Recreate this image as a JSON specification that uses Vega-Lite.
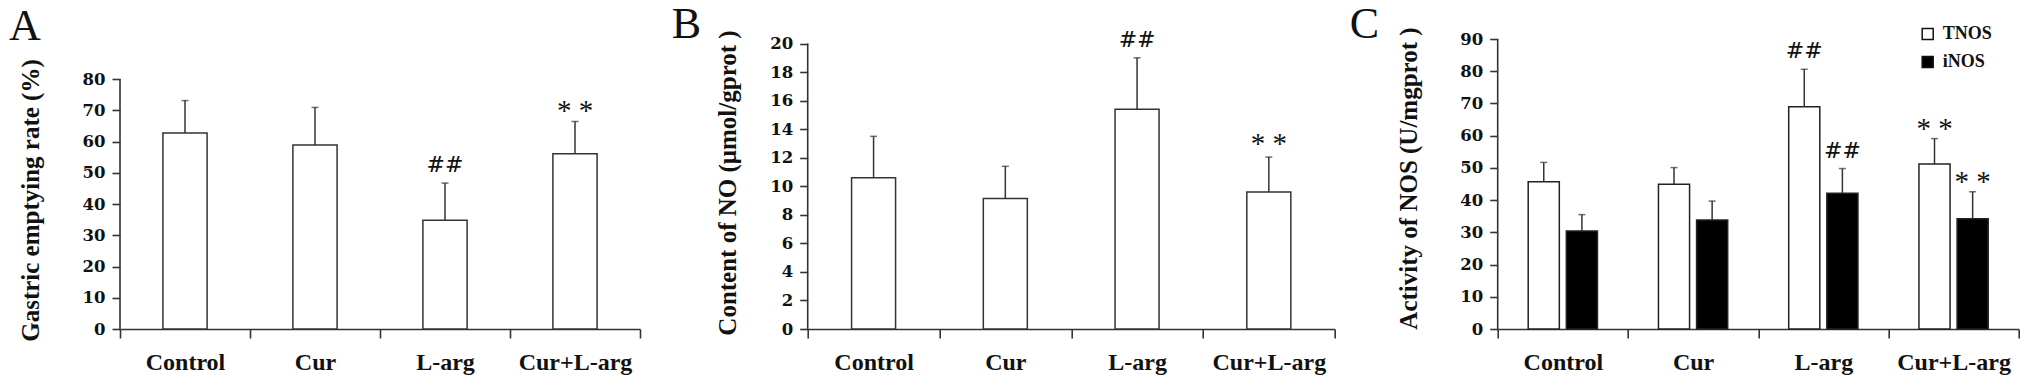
{
  "$schema": "https://vega.github.io/schema/vega-lite/v6.json",
  "autosize": {"type": "none"},
  "padding": {"left": 120, "top": 39, "right": 1911, "bottom": 348},
  "background": "white",
  "config": {
    "font": "Liberation Serif",
    "view": {"stroke": null},
    "axis": {
      "grid": false,
      "labelFlush": false,
      "labelOverlap": false,
      "domainColor": "#333",
      "tickColor": "#333",
      "domainWidth": 1.6,
      "tickWidth": 1.6,
      "labelColor": "#111",
      "titleColor": "#111"
    },
    "axisX": {
      "title": null,
      "labelAngle": 0,
      "tickBand": "extent",
      "tickSize": 9,
      "labelPadding": 12,
      "labelFont": "Liberation Serif",
      "labelFontWeight": "bold",
      "labelFontSize": 24
    },
    "axisY": {
      "domain": false,
      "tickSize": 8,
      "labelPadding": 7,
      "labelFont": "DejaVu Serif",
      "labelFontWeight": "bold",
      "labelFontSize": 16.5,
      "titleFont": "Liberation Serif",
      "titleFontWeight": "bold",
      "titleFontSize": 25,
      "titleBaseline": "alphabetic"
    },
    "title": {"font": "Liberation Serif", "fontSize": 44, "fontWeight": "normal", "color": "#111", "anchor": "start", "frame": "group", "offset": 0, "baseline": "alphabetic"}
  },
  "datasets": {
    "gastric": [
      {"group": "Control", "mean": 62.7, "upper": 73.1, "sig": ""},
      {"group": "Cur", "mean": 58.9, "upper": 70.9, "sig": ""},
      {"group": "L-arg", "mean": 34.8, "upper": 46.7, "sig": "##"},
      {"group": "Cur+L-arg", "mean": 56.1, "upper": 66.4, "sig": "* *"}
    ],
    "no": [
      {"group": "Control", "mean": 10.6, "upper": 13.5, "sig": ""},
      {"group": "Cur", "mean": 9.15, "upper": 11.4, "sig": ""},
      {"group": "L-arg", "mean": 15.4, "upper": 19.0, "sig": "##"},
      {"group": "Cur+L-arg", "mean": 9.6, "upper": 12.05, "sig": "* *"}
    ],
    "nos": [
      {"group": "Control", "series": "TNOS", "mean": 45.7, "upper": 51.7, "sig": ""},
      {"group": "Control", "series": "iNOS", "mean": 30.4, "upper": 35.5, "sig": ""},
      {"group": "Cur", "series": "TNOS", "mean": 44.9, "upper": 50.1, "sig": ""},
      {"group": "Cur", "series": "iNOS", "mean": 33.8, "upper": 39.7, "sig": ""},
      {"group": "L-arg", "series": "TNOS", "mean": 69.0, "upper": 80.6, "sig": "##"},
      {"group": "L-arg", "series": "iNOS", "mean": 42.1, "upper": 49.8, "sig": "##"},
      {"group": "Cur+L-arg", "series": "TNOS", "mean": 51.2, "upper": 59.1, "sig": "* *"},
      {"group": "Cur+L-arg", "series": "iNOS", "mean": 34.2, "upper": 42.6, "sig": "* *"}
    ]
  },
  "bounds": "flush",
  "spacing": 167.7,
  "resolve": {"scale": {"fill": "independent"}, "legend": {"fill": "independent"}},
  "hconcat": [
    {
      "width": 520,
      "height": 290,
      "title": {"text": "A", "dx": -111, "dy": 14},
      "data": {"name": "gastric"},
      "encoding": {
        "x": {"field": "group", "type": "nominal", "scale": {"domain": ["Control", "Cur", "L-arg", "Cur+L-arg"], "paddingInner": 0, "paddingOuter": 0}}
      },
      "layer": [
        {
          "mark": {"type": "bar", "width": {"band": 0.34}, "fill": "white", "stroke": "#333", "strokeWidth": 1.5},
          "encoding": {
            "y": {"field": "mean", "type": "quantitative", "scale": {"domain": [0, 92.8], "nice": false},
              "axis": {"values": [0, 10, 20, 30, 40, 50, 60, 70, 80], "title": "Gastric emptying rate (%)", "titleX": -81.5, "titleY": 161}}
          }
        },
        {
          "mark": {"type": "rule", "stroke": "#333", "strokeWidth": 1.5},
          "encoding": {"y": {"field": "mean", "type": "quantitative", "scale": {"domain": [0, 92.8], "nice": false},
              "axis": {"values": [0, 10, 20, 30, 40, 50, 60, 70, 80], "title": "Gastric emptying rate (%)", "titleX": -81.5, "titleY": 161}}, "y2": {"field": "upper"}}
        },
        {
          "mark": {"type": "tick", "orient": "horizontal", "size": 7, "thickness": 1.5, "color": "#333"},
          "encoding": {"y": {"field": "upper", "type": "quantitative", "scale": {"domain": [0, 92.8], "nice": false},
              "axis": {"values": [0, 10, 20, 30, 40, 50, 60, 70, 80], "title": "Gastric emptying rate (%)", "titleX": -81.5, "titleY": 161}}}
        },
        {
          "transform": [{"filter": "datum.sig == '##'"}],
          "mark": {"type": "text", "font": "DejaVu Serif", "fontSize": 22, "baseline": "alphabetic", "dy": -11, "color": "#111"},
          "encoding": {"y": {"field": "upper", "type": "quantitative", "scale": {"domain": [0, 92.8], "nice": false},
              "axis": {"values": [0, 10, 20, 30, 40, 50, 60, 70, 80], "title": "Gastric emptying rate (%)", "titleX": -81.5, "titleY": 161}}, "text": {"field": "sig"}}
        },
        {
          "transform": [{"filter": "datum.sig == '* *'"}],
          "mark": {"type": "text", "font": "Liberation Serif", "fontSize": 29, "baseline": "alphabetic", "dy": -1.5, "color": "#111"},
          "encoding": {"y": {"field": "upper", "type": "quantitative", "scale": {"domain": [0, 92.8], "nice": false},
              "axis": {"values": [0, 10, 20, 30, 40, 50, 60, 70, 80], "title": "Gastric emptying rate (%)", "titleX": -81.5, "titleY": 161}}, "text": {"field": "sig"}}
        },
        {
          "data": {"values": [{}]},
          "mark": {"type": "rule", "stroke": "#333", "strokeWidth": 1.6},
          "encoding": {"x": {"datum": "Control", "bandPosition": 0}, "y": {"datum": 0, "type": "quantitative", "scale": {"domain": [0, 92.8], "nice": false},
              "axis": {"values": [0, 10, 20, 30, 40, 50, 60, 70, 80], "title": "Gastric emptying rate (%)", "titleX": -81.5, "titleY": 161}}, "y2": {"datum": 80}}
        }
      ]
    },
    {
      "bounds": "flush",
      "spacing": 163,
      "resolve": {"scale": {"fill": "independent"}, "legend": {"fill": "independent"}},
      "hconcat": [
        {
          "width": 527,
          "height": 290,
          "title": {"text": "B", "dx": -136, "dy": 22},
          "data": {"name": "no"},
          "encoding": {
            "x": {"field": "group", "type": "nominal", "scale": {"domain": ["Control", "Cur", "L-arg", "Cur+L-arg"], "paddingInner": 0, "paddingOuter": 0}}
          },
          "layer": [
            {
              "mark": {"type": "bar", "width": {"band": 0.334}, "fill": "white", "stroke": "#333", "strokeWidth": 1.5},
              "encoding": {
                "y": {"field": "mean", "type": "quantitative", "scale": {"domain": [0, 20.32], "nice": false},
                  "axis": {"values": [0, 2, 4, 6, 8, 10, 12, 14, 16, 18, 20], "title": "Content of NO (μmol/gprot )", "titleX": -72, "titleY": 143.5}}
              }
            },
            {
              "mark": {"type": "rule", "stroke": "#333", "strokeWidth": 1.5},
              "encoding": {"y": {"field": "mean", "type": "quantitative", "scale": {"domain": [0, 20.32], "nice": false},
                  "axis": {"values": [0, 2, 4, 6, 8, 10, 12, 14, 16, 18, 20], "title": "Content of NO (μmol/gprot )", "titleX": -72, "titleY": 143.5}}, "y2": {"field": "upper"}}
            },
            {
              "mark": {"type": "tick", "orient": "horizontal", "size": 7, "thickness": 1.5, "color": "#333"},
              "encoding": {"y": {"field": "upper", "type": "quantitative", "scale": {"domain": [0, 20.32], "nice": false},
                  "axis": {"values": [0, 2, 4, 6, 8, 10, 12, 14, 16, 18, 20], "title": "Content of NO (μmol/gprot )", "titleX": -72, "titleY": 143.5}}}
            },
            {
              "transform": [{"filter": "datum.sig == '##'"}],
              "mark": {"type": "text", "font": "DejaVu Serif", "fontSize": 22, "baseline": "alphabetic", "dy": -11, "color": "#111"},
              "encoding": {"y": {"field": "upper", "type": "quantitative", "scale": {"domain": [0, 20.32], "nice": false},
                  "axis": {"values": [0, 2, 4, 6, 8, 10, 12, 14, 16, 18, 20], "title": "Content of NO (μmol/gprot )", "titleX": -72, "titleY": 143.5}}, "text": {"field": "sig"}}
            },
            {
              "transform": [{"filter": "datum.sig == '* *'"}],
              "mark": {"type": "text", "font": "Liberation Serif", "fontSize": 29, "baseline": "alphabetic", "dy": -4.5, "color": "#111"},
              "encoding": {"y": {"field": "upper", "type": "quantitative", "scale": {"domain": [0, 20.32], "nice": false},
                  "axis": {"values": [0, 2, 4, 6, 8, 10, 12, 14, 16, 18, 20], "title": "Content of NO (μmol/gprot )", "titleX": -72, "titleY": 143.5}}, "text": {"field": "sig"}}
            },
            {
              "data": {"values": [{}]},
              "mark": {"type": "rule", "stroke": "#333", "strokeWidth": 1.6},
              "encoding": {"x": {"datum": "Control", "bandPosition": 0}, "y": {"datum": 0, "type": "quantitative", "scale": {"domain": [0, 20.32], "nice": false},
                  "axis": {"values": [0, 2, 4, 6, 8, 10, 12, 14, 16, 18, 20], "title": "Content of NO (μmol/gprot )", "titleX": -72, "titleY": 143.5}}, "y2": {"datum": 20}}
            }
          ]
        },
        {
          "width": 521,
          "height": 290,
          "title": {"text": "C", "dx": -148, "dy": 26},
          "data": {"name": "nos"},
          "encoding": {
            "x": {"field": "group", "type": "nominal", "scale": {"domain": ["Control", "Cur", "L-arg", "Cur+L-arg"], "paddingInner": 0, "paddingOuter": 0}},
            "xOffset": {"field": "series", "type": "nominal", "scale": {"domain": ["TNOS", "iNOS"], "paddingInner": 0.184, "paddingOuter": 0.8}}
          },
          "layer": [
            {
              "mark": {"type": "bar", "stroke": "#222", "strokeWidth": 1.5},
              "encoding": {
                "y": {"field": "mean", "type": "quantitative", "scale": {"domain": [0, 90], "nice": false},
                  "axis": {"values": [0, 10, 20, 30, 40, 50, 60, 70, 80, 90], "title": "Activity of NOS (U/mgprot )", "titleX": -81, "titleY": 139}},
                "fill": {"field": "series", "type": "nominal", "scale": {"domain": ["TNOS", "iNOS"], "range": ["white", "black"]},
                  "legend": {"orient": "none", "legendX": 421, "legendY": -14, "title": null, "symbolType": "square", "symbolSize": 121, "symbolStrokeColor": "#111", "symbolStrokeWidth": 1.5, "labelFont": "Liberation Serif", "labelFontWeight": "bold", "labelFontSize": 18, "labelColor": "#111", "labelOffset": 6, "rowPadding": 10, "padding": 0}}
              }
            },
            {
              "mark": {"type": "rule", "stroke": "#333", "strokeWidth": 1.5},
              "encoding": {"y": {"field": "mean", "type": "quantitative", "scale": {"domain": [0, 90], "nice": false},
                  "axis": {"values": [0, 10, 20, 30, 40, 50, 60, 70, 80, 90], "title": "Activity of NOS (U/mgprot )", "titleX": -81, "titleY": 139}}, "y2": {"field": "upper"}}
            },
            {
              "mark": {"type": "tick", "orient": "horizontal", "size": 7, "thickness": 1.5, "color": "#333"},
              "encoding": {"y": {"field": "upper", "type": "quantitative", "scale": {"domain": [0, 90], "nice": false},
                  "axis": {"values": [0, 10, 20, 30, 40, 50, 60, 70, 80, 90], "title": "Activity of NOS (U/mgprot )", "titleX": -81, "titleY": 139}}}
            },
            {
              "transform": [{"filter": "datum.sig == '##'"}],
              "mark": {"type": "text", "font": "DejaVu Serif", "fontSize": 22, "baseline": "alphabetic", "dy": -11, "color": "#111"},
              "encoding": {"y": {"field": "upper", "type": "quantitative", "scale": {"domain": [0, 90], "nice": false},
                  "axis": {"values": [0, 10, 20, 30, 40, 50, 60, 70, 80, 90], "title": "Activity of NOS (U/mgprot )", "titleX": -81, "titleY": 139}}, "text": {"field": "sig"}}
            },
            {
              "transform": [{"filter": "datum.sig == '* *'"}],
              "mark": {"type": "text", "font": "Liberation Serif", "fontSize": 29, "baseline": "alphabetic", "dy": -1, "color": "#111"},
              "encoding": {"y": {"field": "upper", "type": "quantitative", "scale": {"domain": [0, 90], "nice": false},
                  "axis": {"values": [0, 10, 20, 30, 40, 50, 60, 70, 80, 90], "title": "Activity of NOS (U/mgprot )", "titleX": -81, "titleY": 139}}, "text": {"field": "sig"}}
            },
            {
              "data": {"values": [{}]},
              "mark": {"type": "rule", "stroke": "#333", "strokeWidth": 1.6},
              "encoding": {"x": {"datum": "Control", "bandPosition": 0}, "xOffset": null, "y": {"datum": 0, "type": "quantitative", "scale": {"domain": [0, 90], "nice": false},
                  "axis": {"values": [0, 10, 20, 30, 40, 50, 60, 70, 80, 90], "title": "Activity of NOS (U/mgprot )", "titleX": -81, "titleY": 139}}, "y2": {"datum": 90}}
            }
          ]
        }
      ]
    }
  ]
}
